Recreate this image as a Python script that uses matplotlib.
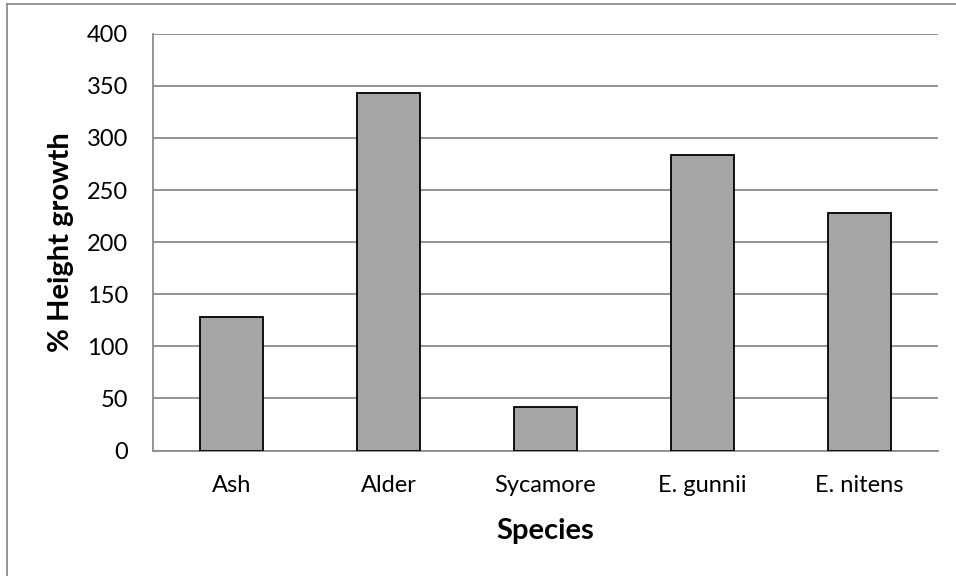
import matplotlib
matplotlib.use("Agg")
import matplotlib.pyplot as plt
from matplotlib.lines import Line2D

species = ["Ash", "Alder", "Sycamore", "E. gunnii", "E. nitens"]
growth = [128, 343, 42, 284, 228]
yticks = [0, 50, 100, 150, 200, 250, 300, 350, 400]

plt.rcParams["font.family"] = ["Lato", "DejaVu Sans"]

W, H = 956, 576
fig = plt.figure(figsize=(W / 100, H / 100), dpi=100)
ax = fig.add_axes([153 / W, 1 - 450.5 / H, (938 - 153) / W, (450.5 - 33.7) / H])

x = range(len(species))
ax.bar(x, growth, width=0.40, color="#a6a6a6", edgecolor="black", linewidth=1.3, zorder=3)

ax.set_xlim(-0.5, len(species) - 0.5)
ax.set_ylim(0, 400)
ax.set_yticks(yticks)
ax.set_xticks(list(x))
ax.set_xticklabels(species)
ax.tick_params(axis="both", length=0, labelsize=17, colors="black")
ax.tick_params(axis="y", pad=18)
ax.tick_params(axis="x", pad=18)
ax.grid(axis="y", color="#8c8c8c", linewidth=1.3, zorder=0)

for side in ["top", "right"]:
    ax.spines[side].set_visible(False)
ax.spines["left"].set_color("#8c8c8c")
ax.spines["left"].set_linewidth(1.3)
ax.spines["bottom"].set_color("#8c8c8c")
ax.spines["bottom"].set_linewidth(1.3)

ax.set_ylabel("% Height growth", fontsize=21, fontweight="bold")
ax.set_xlabel("Species", fontsize=21, fontweight="bold")
ax.yaxis.set_label_coords(-0.1, 0.5)
ax.xaxis.set_label_coords(0.5, -0.162)

# outer chart border (left and top only visible)
fig.add_artist(Line2D([7 / W, 7 / W], [0, 1 - 4 / H], color="#8c8c8c", linewidth=1.3))
fig.add_artist(Line2D([7 / W, 1], [1 - 4 / H, 1 - 4 / H], color="#8c8c8c", linewidth=1.3))

fig.savefig("out.png", dpi=100)
